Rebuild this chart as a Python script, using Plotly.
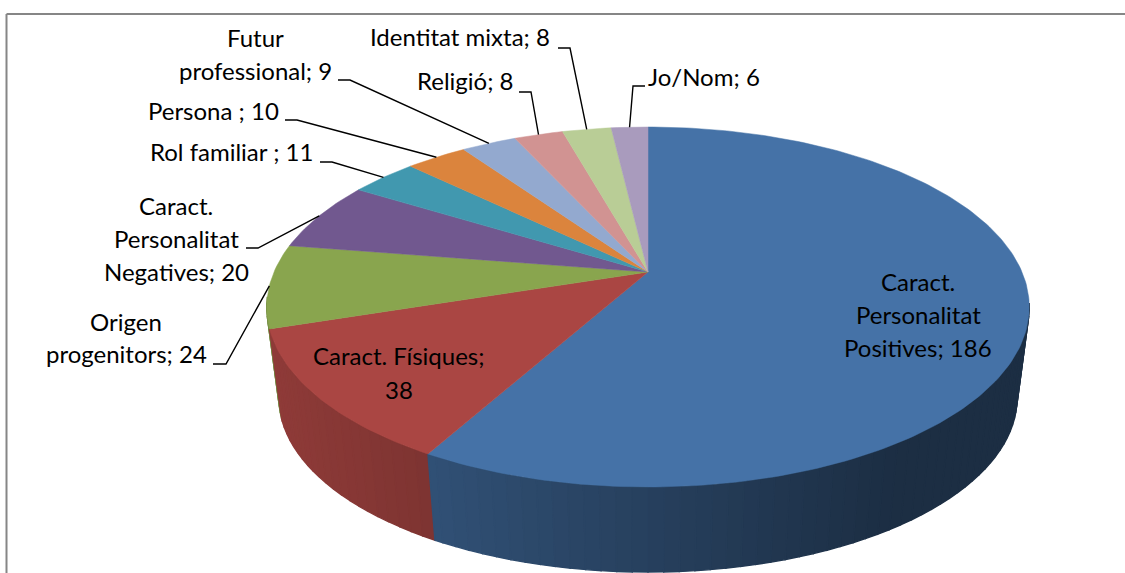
import math
import plotly.graph_objects as go

# --- data ---
categories = ["Caract. Personalitat Positives", "Caract. Físiques", "Origen progenitors",
              "Caract. Personalitat Negatives", "Rol familiar ", "Persona ", "Futur professional",
              "Religió", "Identitat mixta", "Jo/Nom"]
values = [186, 38, 24, 20, 11, 10, 9, 8, 8, 6]
colors = ["#4572A7", "#AA4643", "#89A54E", "#71588F", "#4198AF",
          "#DB843D", "#93A9CF", "#D19392", "#B9CD96", "#A99BBD"]
label_lines = [["Caract.", "Personalitat", "Positives; 186"], ["Caract. Físiques;", "38"],
               ["Origen", "progenitors; 24"], ["Caract.", "Personalitat", "Negatives; 20"],
               ["Rol familiar ; 11"], ["Persona ; 10"], ["Futur", "professional; 9"],
               ["Religió; 8"], ["Identitat mixta; 8"], ["Jo/Nom; 6"]]

# --- layout of the tilted pie (pixel-like plot units) ---
CX, CY, R = 648, 272, 374
PERSP_A, PERSP_C = -120.3, 0.1944
DEPTH_Y, BOTTOM_SCALE = 92, 0.968
label_pos = [(918, [281, 314, 347]), (399, [355, 389]), (126, [321, 353]), (176, [205, 238, 271]),
             (231, [151]), (213, [110]), (255, [37, 70]), (465, [80]), (460, [36]), (704, [76])]
elbows = [None, None, [(213, 364), (226, 364)], [(246, 248), (258, 248)], [(320, 162), (332, 162)],
          [(285, 120), (297, 120)], [(338, 80), (350, 80)], [(519, 92), (531, 92)],
          [(558, 48), (570, 48)], [(645, 86), (633, 86)]]
FONT = "Lato, Carlito, Calibri, sans-serif"
FONT_SIZE = 24


def rim(deg):
    t = math.radians(deg)
    u, v = math.sin(t), math.cos(t)
    d = 1 + PERSP_C * v
    return CX + R * u / d, (PERSP_A * v + CY) / d


def low(deg):
    x, y = rim(deg)
    return CX + BOTTOM_SCALE * (x - CX), CY + DEPTH_Y + BOTTOM_SCALE * (y - CY)


def hex_rgb(h):
    return tuple(int(h[i:i + 2], 16) for i in (1, 3, 5))


def side_color(base, x, first_slice):
    # side walls darken towards the right
    if first_slice:
        f = 0.70 - 0.30 * min(1.0, max(0.0, (x - 435) / 460))
    else:
        f = 0.84 - 0.10 * min(1.0, max(0.0, (x - 275) / 155))
    r, g, b = hex_rgb(base)
    return f"rgb({r * f:.0f},{g * f:.0f},{b * f:.0f})"


total = sum(values)
edges = [0.0]
for v in values:
    edges.append(edges[-1] + v / total * 360)

fig = go.Figure()


def add_poly(xs, ys, col, lw=0.8):
    fig.add_trace(go.Scatter(x=xs, y=ys, mode="lines", fill="toself", fillcolor=col,
                             line=dict(color=col, width=lw), hoverinfo="skip", showlegend=False))


# side walls: near half only, split at slice boundaries, painted from the outer ends inwards
STEP = 2.0
WALL_START, WALL_END = 100.0, 262.0
wall = []
for i in range(len(values)):
    lo, hi = max(edges[i], WALL_START), min(edges[i + 1], WALL_END)
    a = lo
    while a < hi:
        wall.append((a, min(a + STEP, hi), i))
        a += STEP
wall.sort(key=lambda s: abs((s[0] + s[1]) / 2 - 180), reverse=True)
for a0, a1, idx in wall:
    top0, top1, bot1, bot0 = rim(a0), rim(a1), low(a1), low(a0)
    xs = [top0[0], top1[0], bot1[0], bot0[0], top0[0]]
    ys = [top0[1], top1[1], bot1[1], bot0[1], top0[1]]
    add_poly(xs, ys, side_color(colors[idx], sum(xs[:4]) / 4, idx == 0), lw=1.4)

# top faces
for i, col in enumerate(colors):
    n = max(2, int((edges[i + 1] - edges[i]) / 1.0))
    pts = [rim(edges[i] + (edges[i + 1] - edges[i]) * k / n) for k in range(n + 1)]
    xs = [CX] + [p[0] for p in pts] + [CX]
    ys = [CY] + [p[1] for p in pts] + [CY]
    add_poly(xs, ys, col, lw=0.5)

# leader lines: from the elbow to the rim at each slice's middle
for i, elbow in enumerate(elbows):
    if elbow:
        end = rim((edges[i] + edges[i + 1]) / 2)
        pts = elbow + [end]
        fig.add_trace(go.Scatter(x=[p[0] for p in pts], y=[p[1] for p in pts], mode="lines",
                                 line=dict(color="black", width=1.4), hoverinfo="skip", showlegend=False))

annotations = []
for lines, (lx, lys) in zip(label_lines, label_pos):
    for text, ly in zip(lines, lys):
        annotations.append(dict(x=lx, y=ly, text=text, showarrow=False, xanchor="center", yanchor="middle",
                                font=dict(family=FONT, size=FONT_SIZE, color="black")))

border = dict(color="#868686", width=2)
fig.update_layout(
    width=1125, height=573, margin=dict(l=0, r=0, t=0, b=0),
    paper_bgcolor="white", plot_bgcolor="white", showlegend=False,
    xaxis=dict(range=[0, 1125], visible=False, fixedrange=True),
    yaxis=dict(range=[573, 0], visible=False, fixedrange=True),
    annotations=annotations,
    shapes=[dict(type="line", x0=6.5, y0=14, x1=1125, y1=14, line=border, layer="below"),
            dict(type="line", x0=6.5, y0=14, x1=6.5, y1=573, line=border, layer="below")],
)
fig.write_html("out.html", config={"displayModeBar": False},
               post_script="document.body.style.margin='0';document.documentElement.style.overflow='hidden';")
